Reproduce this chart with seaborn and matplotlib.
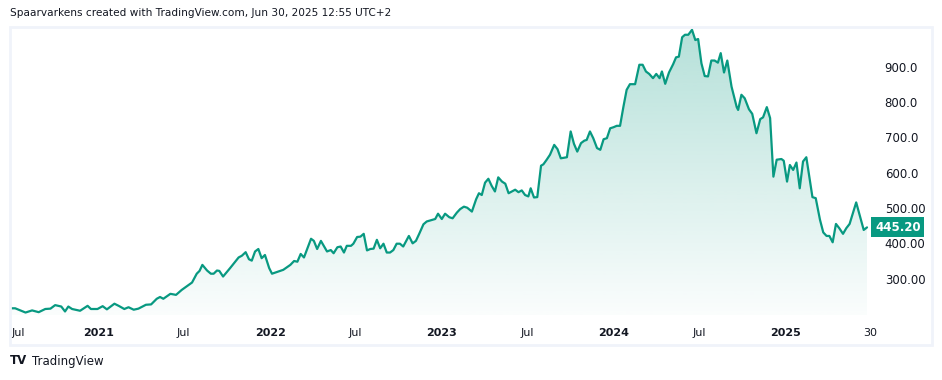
import numpy as np
import pandas as pd
import matplotlib
matplotlib.use('Agg')
import matplotlib.pyplot as plt
import matplotlib.dates as mdates
from matplotlib.patches import Rectangle
import seaborn as sns

# weekly closes
dates = ['2020-06-29', '2020-07-08', '2020-07-30', '2020-08-13', '2020-08-27', '2020-09-10', '2020-09-21',
         '2020-10-01', '2020-10-14', '2020-10-22', '2020-10-29', '2020-11-06', '2020-11-23', '2020-12-09',
         '2020-12-16', '2020-12-30', '2021-01-10', '2021-01-19', '2021-02-04', '2021-02-13', '2021-02-25',
         '2021-03-06', '2021-03-17', '2021-03-27', '2021-04-12', '2021-04-23', '2021-05-05', '2021-05-12',
         '2021-05-19', '2021-06-03', '2021-06-15', '2021-06-27', '2021-07-19', '2021-07-29', '2021-08-04',
         '2021-08-10', '2021-08-20', '2021-08-28', '2021-09-03', '2021-09-10', '2021-09-15', '2021-09-23',
         '2021-10-08', '2021-10-26', '2021-11-02', '2021-11-10', '2021-11-17', '2021-11-23', '2021-11-30',
         '2021-12-07', '2021-12-14', '2021-12-21', '2021-12-30', '2022-01-05', '2022-01-29', '2022-02-13',
         '2022-02-21', '2022-02-28', '2022-03-07', '2022-03-14', '2022-03-29', '2022-04-04', '2022-04-11',
         '2022-04-19', '2022-05-02', '2022-05-10', '2022-05-16', '2022-05-24', '2022-05-31', '2022-06-07',
         '2022-06-13', '2022-06-22', '2022-06-27', '2022-07-05', '2022-07-12', '2022-07-19', '2022-07-26',
         '2022-08-02', '2022-08-09', '2022-08-16', '2022-08-23', '2022-08-30', '2022-09-06', '2022-09-13',
         '2022-09-20', '2022-09-27', '2022-10-04', '2022-10-11', '2022-10-23', '2022-10-31', '2022-11-07',
         '2022-11-14', '2022-11-23', '2022-11-30', '2022-12-18', '2022-12-24', '2023-01-01', '2023-01-08',
         '2023-01-17', '2023-01-24', '2023-02-02', '2023-02-09', '2023-02-17', '2023-02-24', '2023-03-06',
         '2023-03-15', '2023-03-21', '2023-03-27', '2023-04-03', '2023-04-10', '2023-04-17', '2023-04-24',
         '2023-05-01', '2023-05-09', '2023-05-16', '2023-05-23', '2023-05-30', '2023-06-06', '2023-06-13',
         '2023-06-20', '2023-06-27', '2023-07-04', '2023-07-09', '2023-07-16', '2023-07-23', '2023-07-31',
         '2023-08-05', '2023-08-12', '2023-08-19', '2023-08-28', '2023-09-04', '2023-09-11', '2023-09-24',
         '2023-10-02', '2023-10-09', '2023-10-16', '2023-10-24', '2023-10-31', '2023-11-05', '2023-11-12',
         '2023-11-19', '2023-11-27', '2023-12-04', '2023-12-11', '2023-12-18', '2023-12-25', '2024-01-01',
         '2024-01-08', '2024-01-15', '2024-01-22', '2024-01-29', '2024-02-05', '2024-02-16', '2024-02-25',
         '2024-03-03', '2024-03-10', '2024-03-17', '2024-03-25', '2024-04-01', '2024-04-08', '2024-04-13',
         '2024-04-20', '2024-04-28', '2024-05-07', '2024-05-13', '2024-05-19', '2024-05-26', '2024-06-01',
         '2024-06-08', '2024-06-16', '2024-06-23', '2024-06-29', '2024-07-06', '2024-07-13', '2024-07-20',
         '2024-07-27', '2024-08-03', '2024-08-10', '2024-08-16', '2024-08-23', '2024-08-30', '2024-09-08',
         '2024-09-19', '2024-09-22', '2024-09-29', '2024-10-06', '2024-10-15', '2024-10-22', '2024-10-31',
         '2024-11-08', '2024-11-14', '2024-11-22', '2024-11-29', '2024-12-06', '2024-12-13', '2024-12-23',
         '2024-12-28', '2025-01-04', '2025-01-10', '2025-01-17', '2025-01-24', '2025-01-31', '2025-02-07',
         '2025-02-14', '2025-02-27', '2025-03-06', '2025-03-15', '2025-03-22', '2025-03-29', '2025-04-04',
         '2025-04-11', '2025-04-18', '2025-04-25', '2025-05-03', '2025-05-10', '2025-05-17', '2025-05-31',
         '2025-06-16', '2025-06-23']
prices = [216, 216, 204, 210, 205, 214, 215, 225, 221, 207, 221, 214, 209, 223,
          214, 214, 222, 213, 229, 223, 214, 219, 212, 215, 226, 227, 243, 248,
          243, 257, 254, 268, 289, 314, 322, 339, 323, 314, 314, 323, 322, 306,
          330, 360, 365, 375, 355, 351, 377, 384, 358, 367, 330, 314, 325, 339,
          350, 348, 370, 360, 413, 407, 384, 407, 377, 381, 372, 389, 391, 374,
          393, 393, 399, 418, 419, 427, 380, 384, 385, 410, 386, 399, 374, 374,
          381, 399, 399, 391, 421, 400, 407, 427, 454, 462, 469, 484, 469, 484,
          474, 471, 487, 497, 504, 501, 490, 525, 542, 537, 572, 583, 563, 547,
          587, 575, 569, 542, 547, 552, 545, 550, 537, 533, 556, 530, 531, 620,
          624, 637, 651, 679, 667, 641, 644, 717, 682, 660, 684, 691, 693, 717,
          698, 670, 665, 695, 698, 726, 729, 733, 733, 786, 835, 851, 851, 906,
          906, 887, 880, 868, 880, 868, 887, 852, 884, 908, 927, 929, 984, 991,
          991, 1005, 976, 979, 910, 874, 873, 918, 918, 912, 939, 884, 918, 844,
          786, 778, 821, 811, 780, 767, 712, 752, 757, 786, 755, 589, 637, 639,
          634, 575, 622, 608, 629, 556, 632, 644, 531, 528, 467, 431, 421, 421,
          403, 455, 443, 427, 443, 455, 516, 438, 445.20]

tick_dates = ['2020-07-01', '2021-01-01', '2021-07-01', '2022-01-01', '2022-07-01', '2023-01-01',
              '2023-07-01', '2024-01-01', '2024-07-01', '2025-01-01', '2025-06-30']
tick_labels = ['Jul', '2021', 'Jul', '2022', 'Jul', '2023', 'Jul', '2024', 'Jul', '2025', '30']
y_ticks = [300, 400, 500, 600, 700, 800, 900]
y_labels = ['300.00', '400.00', '500.00', '600.0', '700.0', '800.0', '900.0']

df = pd.DataFrame({'date': pd.to_datetime(dates), 'price': prices})

sns.set_style('white')
plt.rcParams['font.family'] = ['DejaVu Sans']

W, H = 942, 380
fig = plt.figure(figsize=(W / 100, H / 100), dpi=100)
L, R, T, B = 10, 875, 27, 315
ax = fig.add_axes([L / W, 1 - B / H, (R - L) / W, (B - T) / H])

green = '#089981'
xmin, xmax = pd.Timestamp('2020-06-27'), pd.Timestamp('2025-07-10')
ymin, ymax = 197, 1013

# gradient fill under the line
x_num = mdates.date2num(df['date'])
top = df['price'].max()
grad = np.linspace(0.02, 0.30, 256).reshape(-1, 1)
rgba = np.zeros((256, 1, 4))
rgba[..., :3] = matplotlib.colors.to_rgb(green)
rgba[..., 3] = grad
img = ax.imshow(rgba, extent=[x_num[0], x_num[-1], ymin, top], origin='lower',
                aspect='auto', zorder=1, interpolation='bilinear')
poly = ax.fill_between(x_num, df['price'], ymin, color='none', lw=0)
clip = poly.get_paths()[0]
img.set_clip_path(clip, transform=ax.transData)

sns.lineplot(data=df, x='date', y='price', ax=ax, color=green, lw=1.6, zorder=3)

ax.set_xlim(xmin, xmax)
ax.set_ylim(ymin, ymax)
ax.set_xlabel('')
ax.set_ylabel('')
for s in ax.spines.values():
    s.set_visible(False)

ax.set_xticks(pd.to_datetime(tick_dates))
ax.set_xticklabels(tick_labels)
for lab in ax.get_xticklabels():
    if lab.get_text().isdigit() and len(lab.get_text()) == 4:
        lab.set_fontweight('bold')
ax.get_xticklabels()[0].set_horizontalalignment('left')
ax.tick_params(axis='x', length=0, pad=9, labelsize=8, labelcolor='#131722')

ax.yaxis.tick_right()
ax.set_yticks(y_ticks)
ax.set_yticklabels(y_labels)
ax.tick_params(axis='y', length=0, pad=7, labelsize=8.5, labelcolor='#131722')

# last price label
ax.text(1.0, prices[-1], f'{prices[-1]:.2f}', transform=ax.get_yaxis_transform(),
        ha='left', va='center', color='white', fontsize=8.5, fontweight='bold',
        bbox=dict(boxstyle='square,pad=0.3', fc=green, ec='none'))

# chart frame
fig.add_artist(Rectangle((10 / W, 1 - 345 / H), 922 / W, 318 / H, transform=fig.transFigure,
                         fill=False, ec='#f0f3fa', lw=2))

fig.text(10 / W, 1 - 13 / H, 'Spaarvarkens created with TradingView.com, Jun 30, 2025 12:55 UTC+2',
         ha='left', va='center', fontsize=7.6, color='#131722')
fig.text(10 / W, 1 - 361 / H, 'TV', ha='left', va='center', fontsize=8.5,
         fontweight='bold', color='#131722')
fig.text(32 / W, 1 - 361 / H, 'TradingView', ha='left', va='center', fontsize=8.5, color='#131722')

fig.savefig('out.png', dpi=100, facecolor='white')
